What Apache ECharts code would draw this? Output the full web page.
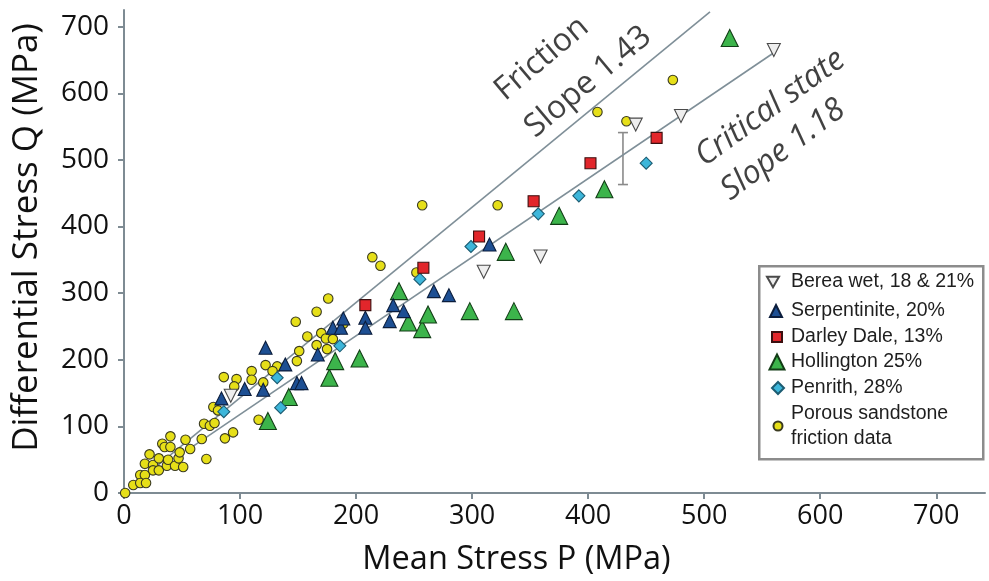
<!DOCTYPE html>
<html>
<head>
<meta charset="utf-8">
<script src="https://cdn.jsdelivr.net/npm/echarts@6/dist/echarts.min.js"></script>
<style>
  html, body { margin: 0; padding: 0; background: #ffffff; }
  #chart { width: 989px; height: 581px; }
</style>
</head>
<body>
<div id="chart"></div>
<script>
// Axis ticks (MPa)
const xTicks = [0, 100, 200, 300, 400, 500, 600, 700];
const yTicks = [0, 100, 200, 300, 400, 500, 600, 700];

// [mean stress P, differential stress Q] in MPa
const bereaWet = [[92, 146], [310, 332], [359, 355], [441, 553], [480, 566], [560, 665]];
const serpentinite = [
  [84, 142], [104, 156], [120, 155], [122, 218], [139, 193], [149, 165], [153, 165],
  [167, 208], [180, 248], [187, 248], [189, 262], [208, 263], [208, 248], [229, 258],
  [232, 282], [241, 273], [267, 303], [280, 297], [315, 373]
];
const darleyDale = [[208, 282], [258, 338], [306, 385], [353, 438], [402, 495], [459, 533]];
const hollington = [
  [124, 108], [142, 144], [177, 173], [182, 198], [203, 202], [237, 303], [245, 256],
  [257, 246], [262, 268], [298, 273], [336, 273], [329, 362], [375, 416], [414, 456], [522, 683]
];
const penrith = [[86, 122], [132, 173], [135, 128], [186, 221], [255, 321], [299, 370], [357, 419], [392, 446], [450, 495]];
const porousSandstone = [
  [1, 0], [8, 12], [14, 27], [18, 27], [14, 15], [19, 15], [22, 58], [18, 44], [25, 42],
  [30, 52], [25, 34], [30, 34], [33, 74], [35, 69], [40, 69], [40, 85], [37, 41], [38, 50],
  [44, 41], [47, 52], [48, 61], [51, 39], [53, 80], [57, 66], [67, 81], [71, 51], [69, 104],
  [74, 101], [78, 105], [77, 129], [81, 124], [86, 174], [87, 82], [94, 91], [97, 171],
  [95, 160], [110, 183], [110, 170], [116, 110], [120, 166], [122, 192], [132, 190],
  [128, 183], [148, 257], [158, 235], [166, 272], [176, 292], [170, 240], [174, 232],
  [180, 231], [166, 222], [175, 216], [151, 213], [149, 198], [189, 254], [214, 354],
  [221, 341], [252, 331], [257, 432], [322, 432], [408, 572], [433, 558], [473, 620]
];

// Reference lines: slope and P range over which each is drawn
const frictionSlope = 1.43;
const frictionRange = [28, 505];
const criticalSlope = 1.18;
const criticalRange = [60, 560];

// Scatter band shown as an error bar: [P, Q low, Q high]
const errorBar = [[430, 463, 541]];

// Text annotations placed in data space: [P, Q], rotation in degrees
const annotations = [
  { name: 'Friction', value: [360, 652], angle: 40, italic: false },
  { name: 'Slope 1.43', value: [400, 617], angle: 40, italic: false },
  { name: 'Critical state', value: [557, 578], angle: 36, italic: true },
  { name: 'Slope 1.18', value: [568, 515], angle: 37, italic: true }
];

const seriesNames = {
  berea: 'Berea wet, 18 & 21%',
  serp: 'Serpentinite, 20%',
  darley: 'Darley Dale, 13%',
  holl: 'Hollington 25%',
  pen: 'Penrith, 28%',
  porous: 'Porous sandstone\nfriction data'
};

const AXIS_COLOR = '#7e8b93';
const LINE_COLOR = '#7f8f98';
const FONT = '"Open Sans", "Noto Sans", sans-serif';
const LEGEND_FONT = '"Liberation Sans", Arial, sans-serif';
const INV_TRIANGLE = 'path://M0,0L12,0L6,10.4Z';

function slopeLine(slope, range) {
  return range.map(p => [p, slope * p]);
}

function scatter(name, data, symbol, size, fill, stroke, z) {
  return {
    name: name,
    type: 'scatter',
    data: data,
    symbol: symbol,
    symbolSize: size,
    z: z,
    itemStyle: { color: fill, borderColor: stroke, borderWidth: 1.1, opacity: 1 },
    emphasis: { disabled: true },
    silent: true
  };
}

// One legend block per entry so each icon keeps its own size
function legendEntry(name, cx, cy, size, lines) {
  const h = Math.max(size, 25 * lines);
  const textStart = 790;
  return {
    data: [name],
    orient: 'vertical',
    left: cx - size / 2,
    top: cy - h / 2,
    itemWidth: size,
    itemHeight: size,
    padding: 0,
    itemGap: 0,
    selectedMode: false,
    z: 6,
    textStyle: {
      fontFamily: LEGEND_FONT,
      fontSize: 19.5,
      color: '#1e1e1e',
      lineHeight: 25,
      padding: [0, 0, 0, Math.max(0, textStart - (cx + size / 2 + 5))]
    }
  };
}

const chart = echarts.init(document.getElementById('chart'), null, { renderer: 'canvas' });

const option = {
  animation: false,
  backgroundColor: '#ffffff',
  grid: { left: 124, right: 4, top: 10, bottom: 87 },
  xAxis: {
    type: 'value',
    min: 0,
    max: 742,
    interval: 100,
    name: 'Mean Stress P (MPa)',
    nameLocation: 'middle',
    nameGap: 50,
    nameTextStyle: { fontFamily: FONT, fontSize: 32.5, color: '#111111', padding: [0, 76, 0, 0] },
    axisLine: { show: true, lineStyle: { color: AXIS_COLOR, width: 2 } },
    axisTick: { show: true, inside: false, length: 6, customValues: xTicks, lineStyle: { color: AXIS_COLOR, width: 2 } },
    axisLabel: { customValues: xTicks, fontFamily: FONT, fontSize: 27, color: '#111111', margin: 10 },
    splitLine: { show: false }
  },
  yAxis: {
    type: 'value',
    min: 0,
    max: 725,
    interval: 100,
    name: 'Differential Stress Q (MPa)',
    nameLocation: 'middle',
    nameGap: 79,
    nameTextStyle: { fontFamily: FONT, fontSize: 35, color: '#111111', padding: [0, 0, 0, 28] },
    axisLine: { show: true, lineStyle: { color: AXIS_COLOR, width: 2 } },
    axisTick: { show: true, inside: false, length: 6, customValues: yTicks, lineStyle: { color: AXIS_COLOR, width: 2 } },
    axisLabel: { customValues: yTicks, fontFamily: FONT, fontSize: 28, color: '#111111', margin: 15 },
    splitLine: { show: false }
  },
  legend: [
    legendEntry(seriesNames.berea, 772, 282, 12, 1),
    legendEntry(seriesNames.serp, 775, 311, 12, 1),
    legendEntry(seriesNames.darley, 776, 337, 10, 1),
    legendEntry(seriesNames.holl, 776, 362, 15, 1),
    legendEntry(seriesNames.pen, 777, 388, 12, 1),
    legendEntry(seriesNames.porous, 777, 426, 9, 2)
  ],
  graphic: [
    {
      type: 'rect',
      left: 758,
      top: 265,
      z: 5,
      shape: { width: 224, height: 193 },
      style: { fill: '#ffffff', stroke: '#8c8c8c', lineWidth: 2.5 },
      silent: true
    }
  ],
  series: [
    {
      name: 'friction',
      type: 'line',
      data: slopeLine(frictionSlope, frictionRange),
      showSymbol: false,
      symbol: 'none',
      z: 1,
      silent: true,
      lineStyle: { color: LINE_COLOR, width: 1.6 }
    },
    {
      name: 'critical',
      type: 'line',
      data: slopeLine(criticalSlope, criticalRange),
      showSymbol: false,
      symbol: 'none',
      z: 1,
      silent: true,
      lineStyle: { color: LINE_COLOR, width: 1.6 }
    },
    {
      name: 'band',
      type: 'custom',
      z: 1,
      silent: true,
      data: errorBar,
      encode: { x: 0, y: [1, 2] },
      renderItem: function (params, api) {
        const p = api.value(0);
        const lo = api.coord([p, api.value(1)]);
        const hi = api.coord([p, api.value(2)]);
        const w = 5;
        const style = { stroke: '#8a8a8a', lineWidth: 1.6 };
        return {
          type: 'group',
          children: [
            { type: 'line', shape: { x1: lo[0], y1: lo[1], x2: hi[0], y2: hi[1] }, style: style },
            { type: 'line', shape: { x1: lo[0] - w, y1: lo[1], x2: lo[0] + w, y2: lo[1] }, style: style },
            { type: 'line', shape: { x1: hi[0] - w, y1: hi[1], x2: hi[0] + w, y2: hi[1] }, style: style }
          ]
        };
      }
    },
    scatter(seriesNames.porous, porousSandstone, 'circle', 9.5, '#e6df18', '#3a3a20', 2),
    scatter(seriesNames.holl, hollington, 'triangle', 17, '#3cb44b', '#123d16', 3),
    scatter(seriesNames.serp, serpentinite, 'triangle', 13, '#1d4f93', '#0b1d3c', 4),
    scatter(seriesNames.pen, penrith, 'diamond', 12, '#3db6da', '#1c5c72', 4),
    scatter(seriesNames.darley, darleyDale, 'rect', 11, '#e2262b', '#3b0f0f', 5),
    scatter(seriesNames.berea, bereaWet, INV_TRIANGLE, 13, '#eeeeee', '#4a4a4a', 5),
    {
      name: 'notes',
      type: 'scatter',
      symbolSize: 0,
      silent: true,
      z: 6,
      data: annotations.map(a => ({
        name: a.name,
        value: a.value,
        label: { rotate: a.angle, fontStyle: a.italic ? 'italic' : 'normal' }
      })),
      label: {
        show: true,
        position: 'inside',
        formatter: '{b}',
        fontFamily: FONT,
        fontSize: 32,
        color: '#111111'
      }
    }
  ]
};

chart.setOption(option);
</script>
</body>
</html>
